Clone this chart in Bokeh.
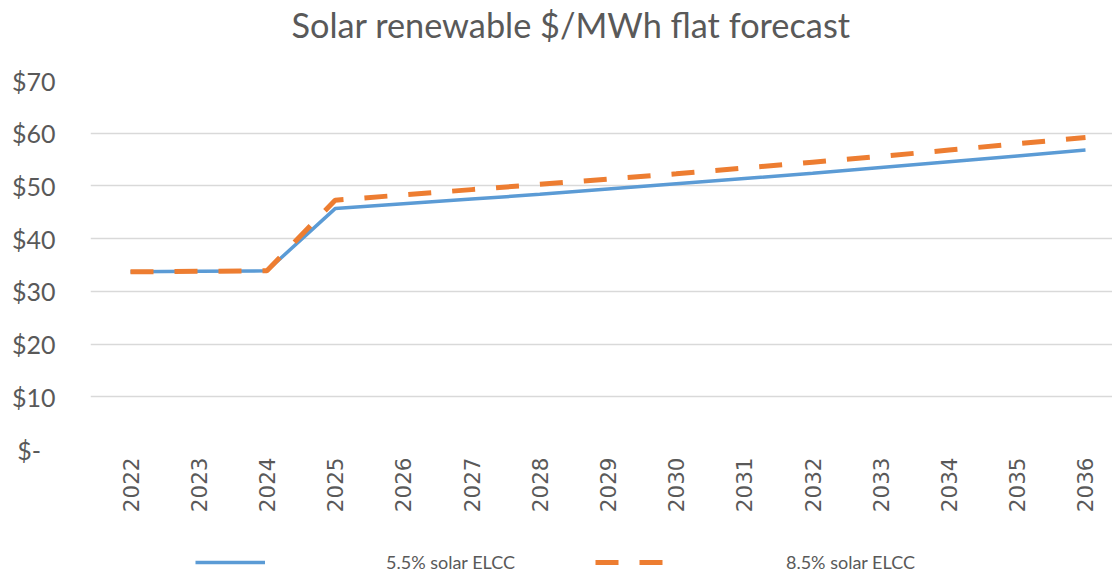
from bokeh.plotting import figure
from bokeh.models import Range1d, FixedTicker, Legend, LegendItem
from bokeh.layouts import column
from bokeh.embed import file_html
from bokeh.resources import INLINE
import math

years = [2022, 2023, 2024, 2025, 2026, 2027, 2028, 2029, 2030, 2031, 2032, 2033, 2034, 2035, 2036]
elcc_55 = [33.7, 33.8, 33.9, 45.7, 46.6, 47.5, 48.4, 49.4, 50.4, 51.4, 52.4, 53.5, 54.6, 55.7, 56.8]
elcc_85 = [33.7, 33.8, 33.9, 47.3, 48.3, 49.3, 50.3, 51.3, 52.3, 53.4, 54.5, 55.6, 56.8, 58.0, 59.2]
y_ticks = [0, 10, 20, 30, 40, 50, 60, 70]
y_labels = ["$-\u2007", "$10", "$20", "$30", "$40", "$50", "$60", "$70"]
series_names = ["5.5% solar ELCC", "8.5% solar ELCC"]
title_text = "Solar renewable $/MWh flat forecast"

TXT = "#595959"
BLUE = "#5b9bd5"
ORANGE = "#ed7d31"
DASH = "23 21"

# ---- title strip
tf = figure(width=1112, height=50, output_backend="svg", toolbar_location=None,
            x_axis_location=None, y_axis_location=None,
            x_range=Range1d(0, 1), y_range=Range1d(0, 1),
            min_border_left=0, min_border_right=0, min_border_top=0, min_border_bottom=0)
tf.outline_line_color = None
tf.grid.visible = False
tf.title.text = title_text
tf.title.align = "left"
tf.title.offset = 201
tf.title.standoff = 2
tf.title.text_font = "Lato"
tf.title.text_font_size = "34.3px"
tf.title.text_font_style = "normal"
tf.title.text_color = TXT

# ---- main chart
p = figure(frame_width=1022, frame_height=369, output_backend="svg", toolbar_location=None,
           x_range=Range1d(2021.4136, 2036.396), y_range=Range1d(0, 70),
           min_border_left=90, min_border_right=0, min_border_top=30, min_border_bottom=100)
p.outline_line_color = None
p.background_fill_color = "white"
p.border_fill_color = "white"

p.xgrid.grid_line_color = None
p.ygrid.grid_line_color = "#d9d9d9"
p.ygrid.grid_line_width = 1.6
p.ygrid.ticker = FixedTicker(ticks=y_ticks)

p.yaxis.ticker = FixedTicker(ticks=y_ticks)
p.yaxis.major_label_overrides = {t: l for t, l in zip(y_ticks, y_labels)}
p.yaxis.axis_line_color = None
p.yaxis.major_tick_line_color = None
p.yaxis.minor_tick_line_color = None
p.yaxis.major_tick_out = 0
p.yaxis.major_tick_in = 0
p.yaxis.major_label_text_font = "Lato"
p.yaxis.major_label_text_font_size = "25px"
p.yaxis.major_label_text_color = TXT
p.yaxis.major_label_standoff = 35

p.xaxis.ticker = FixedTicker(ticks=years)
p.xaxis.major_label_overrides = {y: str(y) for y in years}
p.xaxis.major_label_orientation = math.pi / 2
p.xaxis.axis_line_color = None
p.xaxis.major_tick_line_color = None
p.xaxis.minor_tick_line_color = None
p.xaxis.major_tick_out = 0
p.xaxis.major_tick_in = 0
p.xaxis.major_label_text_font = "DejaVu Sans"
p.xaxis.major_label_text_font_size = "21.5px"
p.xaxis.major_label_text_color = TXT
p.xaxis.major_label_standoff = 8

p.line(years, elcc_55, line_color=BLUE, line_width=3.5)
p.line(years, elcc_85, line_color=ORANGE, line_width=5, line_dash=DASH)

# ---- legend strip (its lines lie outside the visible range; only the legend shows)
lg = figure(width=1112, height=24, output_backend="svg", toolbar_location=None,
            x_axis_location=None, y_axis_location=None,
            x_range=Range1d(0, 1), y_range=Range1d(0, 1),
            min_border_left=0, min_border_right=0, min_border_top=0, min_border_bottom=0)
lg.grid.visible = False
lg.outline_line_color = None
lg.border_fill_color = "white"
l1 = lg.line(years, elcc_55, line_color=BLUE, line_width=3.5)
l2 = lg.line(years, elcc_85, line_color=ORANGE, line_width=5, line_dash=DASH)

legend = Legend(items=[LegendItem(label=series_names[0], renderers=[l1]),
                       LegendItem(label=series_names[1], renderers=[l2])],
                orientation="horizontal", location=(105, 0))
legend.glyph_width = 70
legend.glyph_height = 20
legend.label_standoff = 121
legend.spacing = 80
legend.padding = 0
legend.margin = 0
legend.border_line_color = None
legend.background_fill_alpha = 0
legend.label_text_font = "Lato"
legend.label_text_font_size = "18px"
legend.label_text_color = TXT
lg.add_layout(legend)

layout = column(tf, p, lg, spacing=0)
open("out.html", "w").write(file_html(layout, INLINE))
